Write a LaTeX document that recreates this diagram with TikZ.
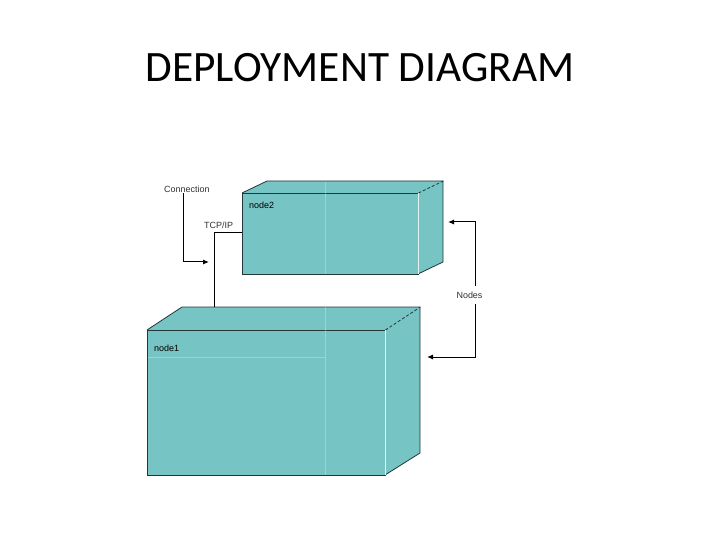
\documentclass[tikz,border=0pt]{standalone}
\usepackage{fontspec}
\setmainfont{Carlito}
\newfontfamily\labelfont{Liberation Sans}
\usepackage{tikz}
\usetikzlibrary{positioning, arrows.meta}
\definecolor{nodeteal}{RGB}{118, 196, 196}
\definecolor{nodeedge}{RGB}{35, 55, 55}
\definecolor{labelgray}{RGB}{50, 50, 50}

\begin{document}
\begin{tikzpicture}[x=1bp, y=-1bp,
  cubeface/.style={draw=nodeedge, fill=nodeteal, inner sep=0, anchor=north west},
  cubeedge/.style={nodeedge, line width=0.8bp},
  paleline/.style={white!80!nodeteal, line width=0.8bp},
  tag/.style={font=\labelfont\fontsize{9}{10}\selectfont, text=labelgray, inner sep=1bp},
  link/.style={black, line width=1bp},
  linkarrow/.style={link, -{Latex[length=6bp, width=5bp]}}]
\useasboundingbox (0,0) rectangle (720,540);
\node[anchor=base, font=\fontsize{43.5}{50}\selectfont] (title) at (360,82) {DEPLOYMENT DIAGRAM};
\fill[nodeteal] (242,193) -- ++(25,-12) -- ++(176,0) -- ++(0,81) -- ++(-25,12) -- ++(-176,0) -- cycle;
\node[cubeface, minimum width=176bp, minimum height=81bp] (node2) at (242,193) {};
\draw[cubeedge] (node2.north west) -- ++(25,-12) -- ++(176,0) -- ++(0,81) -- ++(-25,12);
\draw[cubeedge, densely dashed] (node2.north east) -- ++(25,-12);
\draw[paleline] (node2.north east) -- (node2.south east);
\draw[paleline, opacity=0.35] (325,182) -- (325,274);
\node[tag, anchor=west, text=black] (node2label) at (248,205) {node2};
\fill[nodeteal] (147,330) -- ++(35,-23) -- ++(238,0) -- ++(0,146) -- ++(-35,22) -- ++(-238,0) -- cycle;
\node[cubeface, minimum width=238bp, minimum height=145bp] (node1) at (147,330) {};
\draw[cubeedge] (node1.north west) -- ++(35,-23) -- ++(238,0) -- ++(0,146) -- ++(-35,22);
\draw[cubeedge, densely dashed] (node1.north east) -- ++(35,-23);
\draw[paleline] (node1.north east) -- (node1.south east);
\draw[paleline, opacity=0.35] (325,307) -- (325,475);
\draw[paleline, opacity=0.35] (148,357) -- (325,357);
\node[tag, anchor=west, text=black] (node1label) at (153,348) {node1};
\node[tag, anchor=west] (connection) at (163,189) {Connection};
\node[tag, anchor=west] (tcpip) at (203,225) {TCP/IP};
\node[tag, inner ysep=6bp] (nodes) at (469.5,295) {Nodes};
\coordinate (conntip) at (209,262);
\coordinate (n1top) at (214,307);
\coordinate (tcpbend) at (214,233);
\coordinate (n2tip) at (448,222);
\coordinate (n1tip) at (427,357);
\draw[linkarrow] ([xshift=20bp]connection.south west) |- (conntip);
\draw[link] (n1top) -- (tcpbend) -- (node2.west |- tcpbend);
\draw[linkarrow] ([xshift=5.5bp]nodes.north) |- (n2tip);
\draw[linkarrow] ([xshift=5.5bp]nodes.south) |- (n1tip);
\end{tikzpicture}
\end{document}
